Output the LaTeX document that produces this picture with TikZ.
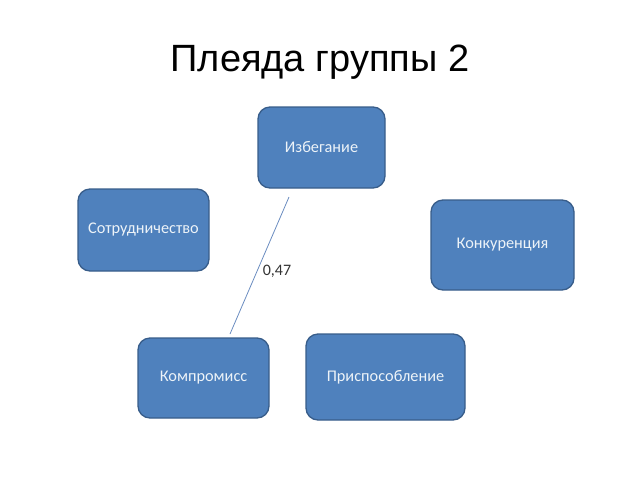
\documentclass[tikz,border=0pt]{standalone}
\usepackage{fontspec}
\setmainfont{Carlito}
\newfontfamily\titlefont{Liberation Sans}
\definecolor{boxfill}{HTML}{4F81BD}
\definecolor{boxdraw}{HTML}{385D8A}
\definecolor{linkcol}{HTML}{6A8CC0}
\begin{document}
\begin{tikzpicture}[x=1pt,y=-1pt,
  box/.style={draw=boxdraw,line width=1.3pt,fill=boxfill,rounded corners=12pt,
    text=white!90!boxfill,font=\fontsize{16.3}{19}\selectfont,inner sep=0pt}]
\useasboundingbox (0,0) rectangle (640,480);
\node[font=\titlefont\fontsize{38}{45}\selectfont] (title) at (320,62) {Плеяда группы 2};
\node[box,minimum width=127pt,minimum height=81pt] (izb) at (321.5,147.5) {Избегание};
\node[box,minimum width=131pt,minimum height=82pt] (sot) at (143.5,230) {Сотрудничество};
\node[box,minimum width=143pt,minimum height=90pt] (kon) at (502.5,245) {Конкуренция};
\node[box,minimum width=131pt,minimum height=80pt] (kom) at (203.5,378) {Компромисс};
\node[box,minimum width=159pt,minimum height=86pt] (pri) at (385.5,377) {Приспособление};
\coordinate (a) at (289,197);
\coordinate (b) at (230,334);
\draw[linkcol,line width=0.8pt] (a) -- (b);
\node[font=\fontsize{16}{19}\selectfont,text=black!80] (w) at (277,271) {0,47};
\end{tikzpicture}
\end{document}
